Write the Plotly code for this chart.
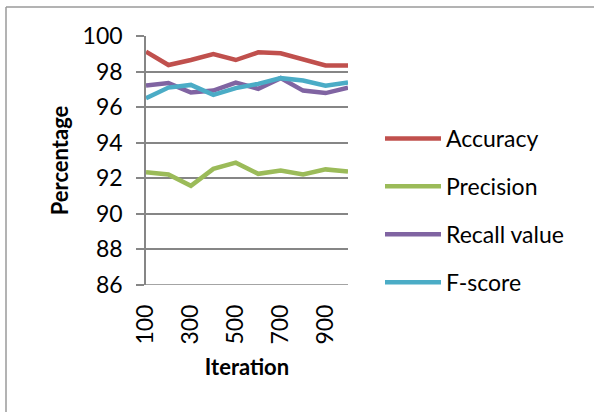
import plotly.graph_objects as go

iterations = ["100", "200", "300", "400", "500", "600", "700", "800", "900", "1000"]
tick_labels = ["100", "300", "500", "700", "900"]
accuracy = [99.12, 98.37, 98.65, 98.99, 98.65, 99.08, 99.03, 98.69, 98.34, 98.34]
precision = [92.34, 92.21, 91.58, 92.53, 92.88, 92.25, 92.44, 92.21, 92.50, 92.38]
recall = [97.21, 97.35, 96.82, 96.93, 97.38, 97.03, 97.63, 96.93, 96.79, 97.10]
fscore = [96.50, 97.10, 97.25, 96.69, 97.07, 97.31, 97.63, 97.50, 97.21, 97.38]

series = [
    ("Accuracy", accuracy, "#C0504D"),
    ("Precision", precision, "#9BBB59"),
    ("Recall value", recall, "#8064A2"),
    ("F-score", fscore, "#4BACC6"),
]

FONT = "Lato, Carlito, Calibri, 'Liberation Sans', sans-serif"
FS = 23

fig = go.Figure()
for name, vals, col in series:
    fig.add_trace(go.Scatter(
        x=iterations, y=vals, name=name, mode="lines",
        line=dict(color=col, width=4.5), legendgroup=name,
    ))

L, R, T, B = 146, 594 - 348, 36, 412 - 285
W, H = 594 - L - R, 412 - T - B

fig.update_layout(
    width=594, height=412,
    margin=dict(l=L, r=R, t=T, b=B, autoexpand=False),
    paper_bgcolor="white", plot_bgcolor="white",
    font=dict(family=FONT, size=FS, color="black"),
    showlegend=True,
    legend=dict(
        x=(380 - L) / W, y=(285 - 117) / H, xanchor="left", yanchor="top",
        tracegroupgap=15, itemwidth=56, font=dict(size=FS),
        bgcolor="rgba(0,0,0,0)",
    ),
    xaxis=dict(
        type="category", tickmode="array", tickvals=tick_labels, ticktext=tick_labels,
        tickangle=-90, showgrid=False, showline=False, zeroline=False,
        ticks="", ticklen=0, ticklabelstandoff=14, automargin=False,
        title=dict(text="<b>Iteration</b>", font=dict(size=FS - 1), standoff=15),
    ),
    yaxis=dict(
        range=[86, 100], dtick=2, tick0=86,
        showgrid=True, gridcolor="#868686", gridwidth=1.5,
        showline=True, linecolor="#868686", linewidth=1.5,
        ticks="outside", ticklen=8, tickcolor="#868686", tickwidth=1.5,
        ticklabelstandoff=9,
        zeroline=False, automargin=False,
        title=dict(text="<b>Percentage</b>", font=dict(size=FS - 1), standoff=8),
    ),
    shapes=[
        dict(type="line", xref="paper", yref="y", x0=-8 / W, x1=1, y0=86, y1=86,
             line=dict(color="#868686", width=1.5)),
        dict(type="line", xref="paper", yref="paper",
             x0=(6 - L) / W, x1=(594 - L) / W, y0=(285 - 7) / H, y1=(285 - 7) / H,
             line=dict(color="#9a9a9a", width=1.5)),
        dict(type="line", xref="paper", yref="paper",
             x0=(6 - L) / W, x1=(6 - L) / W, y0=(285 - 7) / H, y1=(285 - 412) / H,
             line=dict(color="#9a9a9a", width=1.5)),
    ],
)

fig.write_html(
    "out.html",
    config={"displayModeBar": False},
    post_script=(
        "document.body.style.margin='0';document.body.style.padding='0';"
        "document.body.style.overflow='hidden';"
        "document.documentElement.style.overflow='hidden';"
    ),
)
